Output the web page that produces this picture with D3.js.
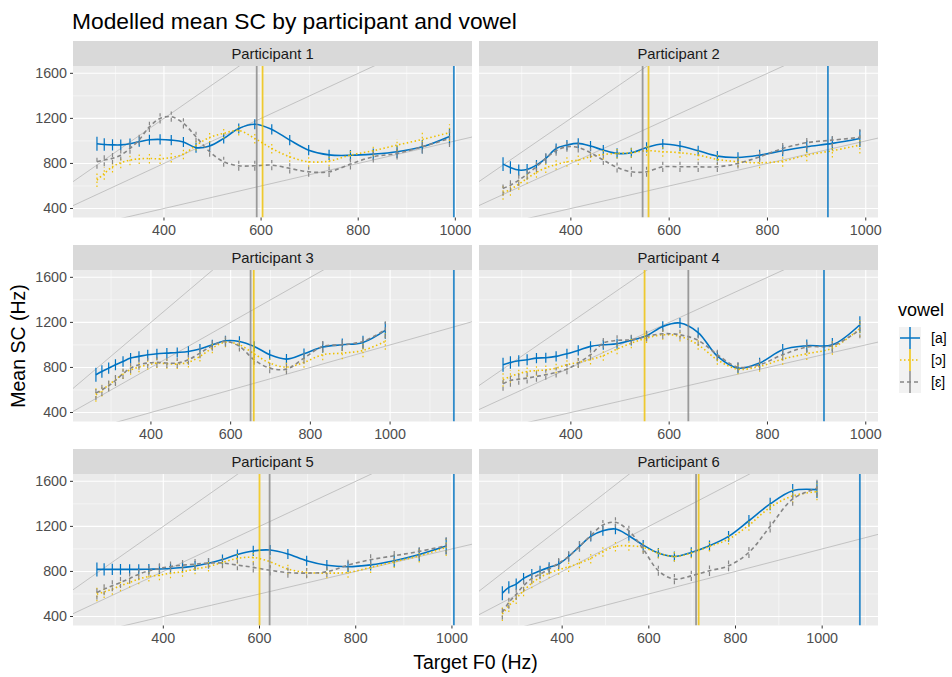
<!DOCTYPE html>
<html>

<head>
    <script src="https://d3js.org/d3.v7.min.js"></script>
    <style>
        body { margin: 0; background: #fff; }
        text { font-family: "Liberation Sans", Arial, sans-serif; }
    </style>
</head>

<body>
    <div id="chart"></div>

    <script>
        // target F0 values (notes C4 to B5)
        const notes = [262, 277, 294, 311, 330, 349, 370, 392, 415, 440, 466, 494,
            523, 554, 587, 622, 659, 698, 740, 784, 831, 880, 932, 988];
        const participants = ["Participant 1", "Participant 2", "Participant 3",
            "Participant 4", "Participant 5", "Participant 6"];
        const vowels = ["[a]", "[ɔ]", "[ɛ]"];

        // modelled mean SC, one row per participant
        const scA = [
            [975, 968, 965, 965, 975, 993, 1010, 1013, 1007, 990, 940, 955, 1022, 1110, 1148, 1102, 1007, 918, 876, 872, 883, 904, 948, 1040],
            [794, 764, 741, 747, 785, 844, 933, 963, 978, 954, 919, 889, 895, 942, 972, 954, 913, 865, 853, 874, 913, 948, 978, 1022],
            [735, 764, 794, 824, 853, 883, 898, 913, 921, 927, 933, 942, 963, 1001, 1037, 1031, 987, 913, 874, 921, 981, 1001, 1022, 1129],
            [824, 844, 859, 868, 883, 886, 898, 921, 951, 987, 1001, 1010, 1040, 1081, 1164, 1194, 1110, 900, 794, 839, 957, 993, 1001, 1179],
            [818, 818, 818, 818, 818, 818, 820, 822, 826, 835, 848, 872, 905, 950, 982, 990, 955, 895, 855, 842, 858, 895, 950, 1025],
            [607, 658, 687, 738, 776, 806, 836, 865, 933, 1022, 1111, 1161, 1176, 1117, 1034, 963, 933, 969, 1028, 1111, 1250, 1399, 1517, 1526]
        ];
        const scO = [
            [652, 711, 770, 806, 830, 841, 844, 841, 853, 883, 960, 1031, 1067, 1092, 1022, 933, 859, 815, 821, 874, 913, 963, 1013, 1073],
            [539, 569, 616, 667, 720, 760, 790, 815, 830, 860, 880, 889, 895, 913, 904, 895, 874, 836, 815, 806, 821, 874, 913, 963],
            [557, 596, 646, 690, 744, 779, 803, 824, 839, 833, 830, 845, 898, 972, 1025, 1001, 921, 839, 803, 845, 913, 927, 951, 1031],
            [690, 720, 745, 764, 772, 778, 794, 824, 845, 870, 905, 963, 1016, 1061, 1090, 1076, 1001, 868, 785, 809, 874, 922, 972, 1145],
            [598, 619, 643, 673, 702, 732, 756, 767, 785, 797, 821, 844, 880, 916, 924, 886, 821, 791, 785, 791, 836, 886, 939, 1013],
            [421, 495, 560, 628, 696, 747, 785, 815, 841, 874, 916, 975, 1022, 1028, 1013, 963, 933, 963, 1022, 1087, 1211, 1369, 1470, 1508]
        ];
        const scE = [
            [815, 830, 845, 874, 933, 1010, 1125, 1200, 1215, 1156, 1037, 904, 815, 779, 779, 785, 756, 726, 726, 794, 859, 889, 948, 1022],
            [578, 607, 652, 705, 770, 844, 913, 948, 942, 895, 830, 764, 726, 726, 770, 770, 770, 770, 800, 859, 933, 984, 1007, 1031],
            [572, 601, 637, 684, 744, 794, 824, 839, 845, 839, 839, 868, 927, 993, 1031, 987, 868, 794, 785, 883, 987, 1001, 1031, 1135],
            [655, 684, 696, 705, 720, 735, 756, 785, 839, 913, 1016, 1040, 1046, 1076, 1099, 1090, 1040, 913, 803, 824, 913, 981, 993, 1135],
            [613, 643, 673, 702, 738, 776, 806, 827, 844, 856, 865, 874, 874, 856, 836, 810, 790, 785, 797, 856, 904, 939, 978, 1028],
            [436, 524, 598, 673, 738, 776, 821, 874, 933, 1022, 1117, 1212, 1236, 1161, 999, 806, 732, 761, 806, 850, 969, 1200, 1443, 1538]
        ];
        // half width of the error bars, per note
        const halfCI = [62, 55, 50, 48, 46, 45, 45, 45, 45, 45, 45, 45, 45, 45, 45, 45, 45, 45, 46, 48, 50, 55, 60, 75];

        // vertical reference lines (Hz) per participant
        const f1A = [997, 923, 1160, 915, 1004, 1087];
        const f1O = [603, 558, 658, 550, 600, 715];
        const f1E = [591, 546, 650, 639, 621, 709];

        const harmonics = [1, 2, 3];
        const xTicks = [400, 600, 800, 1000];
        const yTicks = [400, 800, 1200, 1600];
        const yMinor = [600, 1000, 1400];
        const gridStart = 250; // model predictions start here
        const yDomain = [320, 1665];

        const colors = ["#0073C2", "#EFC000", "#868686"];
        const dashes = [null, "1.5,2.5", "4,3"];

        // layout
        const panelLeft = [73, 479], panelW = 399;
        const stripH = 25, plotH = 151.5, rowTop0 = 41, rowStep = 204;

        const svg = d3.select("#chart")
            .append("svg")
            .attr("width", 952)
            .attr("height", 677);

        // title
        svg.append("text")
            .attr("x", 72)
            .attr("y", 29)
            .style("font-size", "22.8px")
            .attr("fill", "#000")
            .text("Modelled mean SC by participant and vowel");

        participants.forEach(function (name, p) {
            const col = p % 2, row = Math.floor(p / 2);
            const x0 = panelLeft[col];
            const top = rowTop0 + row * rowStep;
            const pTop = top + stripH, pBot = pTop + plotH;

            const vl = [f1A[p], f1O[p], f1E[p]];
            const series = [scA[p], scO[p], scE[p]];

            // free x scale: data range plus 5% either side
            const hi = Math.max(notes[notes.length - 1], d3.max(vl));
            const pad = 0.05 * (hi - gridStart);
            const x = d3.scaleLinear().domain([gridStart - pad, hi + pad]).range([x0, x0 + panelW]);
            const y = d3.scaleLinear().domain(yDomain).range([pBot, pTop]);
            const xd = x.domain();

            const g = svg.append("g");

            // strip
            g.append("rect")
                .attr("x", x0).attr("y", top)
                .attr("width", panelW).attr("height", stripH)
                .attr("fill", "#d9d9d9");
            g.append("text")
                .attr("x", x0 + panelW / 2)
                .attr("y", top + stripH / 2 + 5.3)
                .attr("text-anchor", "middle")
                .style("font-size", "14.8px")
                .attr("fill", "#1a1a1a")
                .text(name);

            // panel background
            g.append("rect")
                .attr("x", x0).attr("y", pTop)
                .attr("width", panelW).attr("height", plotH)
                .attr("fill", "#ebebeb");

            // grid
            const xMinor = xTicks.map(d => d - 100).concat([xTicks[xTicks.length - 1] + 100])
                .filter(d => d > xd[0] && d < xd[1]);
            g.selectAll(null).data(xMinor).enter().append("line")
                .attr("x1", d => x(d)).attr("x2", d => x(d))
                .attr("y1", pTop).attr("y2", pBot)
                .attr("stroke", "#fff").attr("stroke-width", 0.5);
            g.selectAll(null).data(yMinor).enter().append("line")
                .attr("x1", x0).attr("x2", x0 + panelW)
                .attr("y1", d => y(d)).attr("y2", d => y(d))
                .attr("stroke", "#fff").attr("stroke-width", 0.5);
            g.selectAll(null).data(xTicks).enter().append("line")
                .attr("x1", d => x(d)).attr("x2", d => x(d))
                .attr("y1", pTop).attr("y2", pBot)
                .attr("stroke", "#fff").attr("stroke-width", 1.1);
            g.selectAll(null).data(yTicks).enter().append("line")
                .attr("x1", x0).attr("x2", x0 + panelW)
                .attr("y1", d => y(d)).attr("y2", d => y(d))
                .attr("stroke", "#fff").attr("stroke-width", 1.1);

            // clip
            const clipId = "clip" + p;
            svg.append("clipPath").attr("id", clipId)
                .append("rect")
                .attr("x", x0).attr("y", pTop)
                .attr("width", panelW).attr("height", plotH);
            const inner = g.append("g").attr("clip-path", "url(#" + clipId + ")");

            // harmonic lines y = k * x
            inner.selectAll(null).data(harmonics).enter().append("line")
                .attr("x1", x(xd[0])).attr("y1", k => y(k * xd[0]))
                .attr("x2", x(xd[1])).attr("y2", k => y(k * xd[1]))
                .attr("stroke", "#bdbdbd").attr("stroke-width", 0.9);

            // error bars and curves
            series.forEach(function (vals, v) {
                const pts = notes.map((n, i) => ({ f0: n, sc: vals[i], ci: halfCI[i] }));

                inner.selectAll(null).data(pts).enter().append("line")
                    .attr("x1", d => x(d.f0)).attr("x2", d => x(d.f0))
                    .attr("y1", d => y(d.sc - d.ci)).attr("y2", d => y(d.sc + d.ci))
                    .attr("stroke", colors[v])
                    .attr("stroke-width", 1.2)
                    .attr("stroke-dasharray", dashes[v]);

                inner.append("path")
                    .datum(pts)
                    .attr("fill", "none")
                    .attr("stroke", colors[v])
                    .attr("stroke-width", 1.6)
                    .attr("stroke-dasharray", dashes[v])
                    .attr("d", d3.line()
                        .curve(d3.curveCatmullRom)
                        .x(d => x(d.f0))
                        .y(d => y(d.sc)));
            });

            // vertical lines per vowel
            inner.selectAll(null).data(vl).enter().append("line")
                .attr("x1", d => x(d)).attr("x2", d => x(d))
                .attr("y1", pTop).attr("y2", pBot)
                .attr("stroke", (d, i) => colors[i])
                .attr("stroke-opacity", 0.8)
                .attr("stroke-width", 1.8);

            // x axis
            const xAxis = g.append("g").attr("transform", `translate(0,${pBot})`);
            xAxis.selectAll(null).data(xTicks.filter(d => d >= xd[0] && d <= xd[1])).enter().append("line")
                .attr("x1", d => x(d)).attr("x2", d => x(d))
                .attr("y1", 0).attr("y2", 3)
                .attr("stroke", "#333");
            xAxis.selectAll(null).data(xTicks.filter(d => d >= xd[0] && d <= xd[1])).enter().append("text")
                .attr("x", d => x(d)).attr("y", 17)
                .attr("text-anchor", "middle")
                .style("font-size", "14.3px")
                .attr("fill", "#4d4d4d")
                .text(d => d);

            // y axis, left column only
            if (col === 0) {
                const yAxis = g.append("g");
                yAxis.selectAll(null).data(yTicks).enter().append("line")
                    .attr("x1", x0 - 3).attr("x2", x0)
                    .attr("y1", d => y(d)).attr("y2", d => y(d))
                    .attr("stroke", "#333");
                yAxis.selectAll(null).data(yTicks).enter().append("text")
                    .attr("x", x0 - 6).attr("y", d => y(d) + 5)
                    .attr("text-anchor", "end")
                    .style("font-size", "14.3px")
                    .attr("fill", "#4d4d4d")
                    .text(d => d);
            }
        });

        // axis titles
        svg.append("text")
            .attr("x", 475.5).attr("y", 669)
            .attr("text-anchor", "middle")
            .style("font-size", "19.5px")
            .text("Target F0 (Hz)");
        svg.append("text")
            .attr("transform", "translate(25,346) rotate(-90)")
            .attr("text-anchor", "middle")
            .style("font-size", "19.5px")
            .text("Mean SC (Hz)");

        // legend
        const legend = svg.append("g");
        legend.append("text")
            .attr("x", 898).attr("y", 316)
            .style("font-size", "18px")
            .text("vowel");
        const keys = legend.selectAll(null).data(vowels).enter().append("g")
            .attr("transform", (d, i) => `translate(899,${327 + i * 22})`);
        keys.append("rect")
            .attr("width", 22).attr("height", 22)
            .attr("fill", "#f2f2f2");
        keys.append("line")
            .attr("x1", 11).attr("x2", 11).attr("y1", 0).attr("y2", 22)
            .attr("stroke", (d, i) => colors[i])
            .attr("stroke-opacity", 0.8)
            .attr("stroke-width", 1.8);
        keys.append("line")
            .attr("x1", 1).attr("x2", 21).attr("y1", 11).attr("y2", 11)
            .attr("stroke", (d, i) => colors[i])
            .attr("stroke-width", 1.5)
            .attr("stroke-dasharray", (d, i) => dashes[i]);
        keys.append("text")
            .attr("x", 32).attr("y", 16)
            .style("font-size", "14px")
            .attr("fill", "#000")
            .text(d => d);
    </script>
</body>

</html>
